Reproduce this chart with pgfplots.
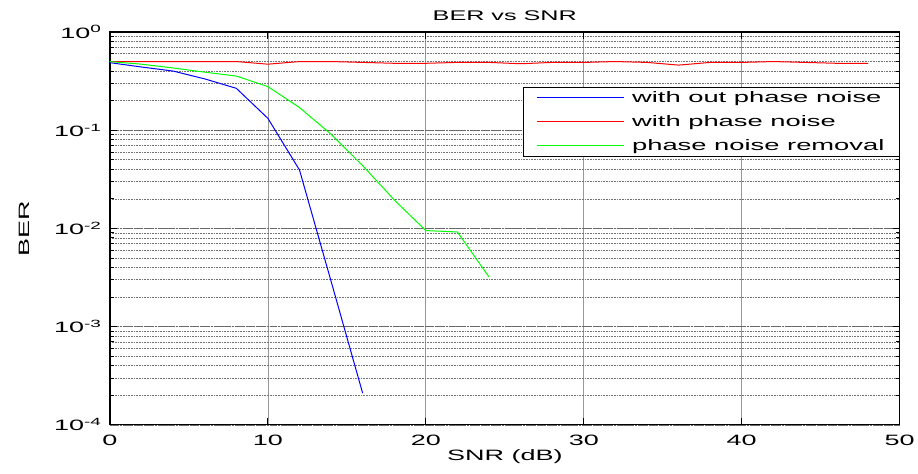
\documentclass[border=0pt]{standalone}
\usepackage{fontspec}
\setmainfont{Liberation Sans}[FakeStretch=1.8]
\usepackage{pgfplots}
\pgfplotsset{compat=1.18}
\begin{document}
\begin{tikzpicture}
\begin{axis}[
  scale only axis,
  width=790pt, height=393pt,
  ymode=log,
  xmin=0, xmax=50,
  ymin=1e-4, ymax=1,
  xtick={0,10,20,30,40,50},
  ytick={1e-4,1e-3,1e-2,1e-1,1},
  yticklabels={10\textsuperscript{-4},10\textsuperscript{-3},10\textsuperscript{-2},10\textsuperscript{-1},10\textsuperscript{0}},
  /pgf/number format/assume math mode=true,
  font=\fontsize{15}{18}\selectfont,
  tick label style={font=\fontsize{15}{18}\selectfont},
  xticklabel style={yshift=-7pt},
  yticklabel style={xshift=-5pt},
  tick align=inside,
  major tick length=7pt,
  minor tick length=4pt,
  axis line style={line width=1.2pt},
  every tick/.style={black, line width=0.9pt},
  xmajorgrids=true,
  ymajorgrids=true,
  yminorgrids=true,
  x grid style={gray!80, solid, line width=0.7pt},
  y grid style={black!60, densely dotted, line width=0.6pt},
  minor y grid style={black!55, densely dotted, line width=0.6pt},
  title={BER vs SNR},
  every axis title shift=0pt,
  title style={at={(axis description cs:0.5,1.042)}, anchor=center, font=\fontsize{14}{16}\selectfont},
  xlabel={SNR (dB)},
  xlabel style={at={(axis description cs:0.5,-0.08)}, anchor=center},
  ylabel={BER},
  ylabel style={at={(axis description cs:-0.108,0.5)}, anchor=center},
  legend style={at={(1,0.86)}, anchor=north east,
    font=\fontsize{15.2}{18}\selectfont, row sep=7.5pt, inner xsep=13pt, inner ysep=2pt,
    cells={anchor=west},
    /tikz/every odd column/.append style={column sep=6pt}},
  legend image code/.code={\draw[line width=1.2pt] (0pt,0pt) -- (87pt,0pt);},
]
\addplot[color=blue, line width=1pt] coordinates {
(0,0.487)(2,0.44)(4,0.40)(6,0.333)(8,0.267)(10,0.132)(12,0.0394)(14,0.0029)(16,0.00021)};
\addlegendentry{with out phase noise}
\addplot[color=red, line width=1pt] coordinates {
(0,0.5)(2,0.5)(4,0.5)(6,0.5)(8,0.5)(10,0.47)(12,0.5)(14,0.5)(16,0.49)(18,0.48)(20,0.48)(22,0.49)(24,0.49)(26,0.475)(28,0.49)(30,0.49)(32,0.5)(34,0.49)(36,0.46)(38,0.49)(40,0.49)(42,0.5)(44,0.49)(46,0.48)(48,0.48)};
\addlegendentry{with phase noise}
\addplot[color=green, line width=1pt] coordinates {
(0,0.499)(2,0.47)(4,0.43)(6,0.39)(8,0.356)(10,0.278)(12,0.170)(14,0.091)(16,0.0436)(18,0.0195)(20,0.0095)(22,0.0092)(24,0.0032)};
\addlegendentry{phase noise removal}
\end{axis}
\path (current axis.south west) ++(-110pt,-49pt) coordinate (bbA);
\path (current axis.north east) ++(18pt,32pt) coordinate (bbB);
\useasboundingbox (bbA) rectangle (bbB);
\end{tikzpicture}
\end{document}
